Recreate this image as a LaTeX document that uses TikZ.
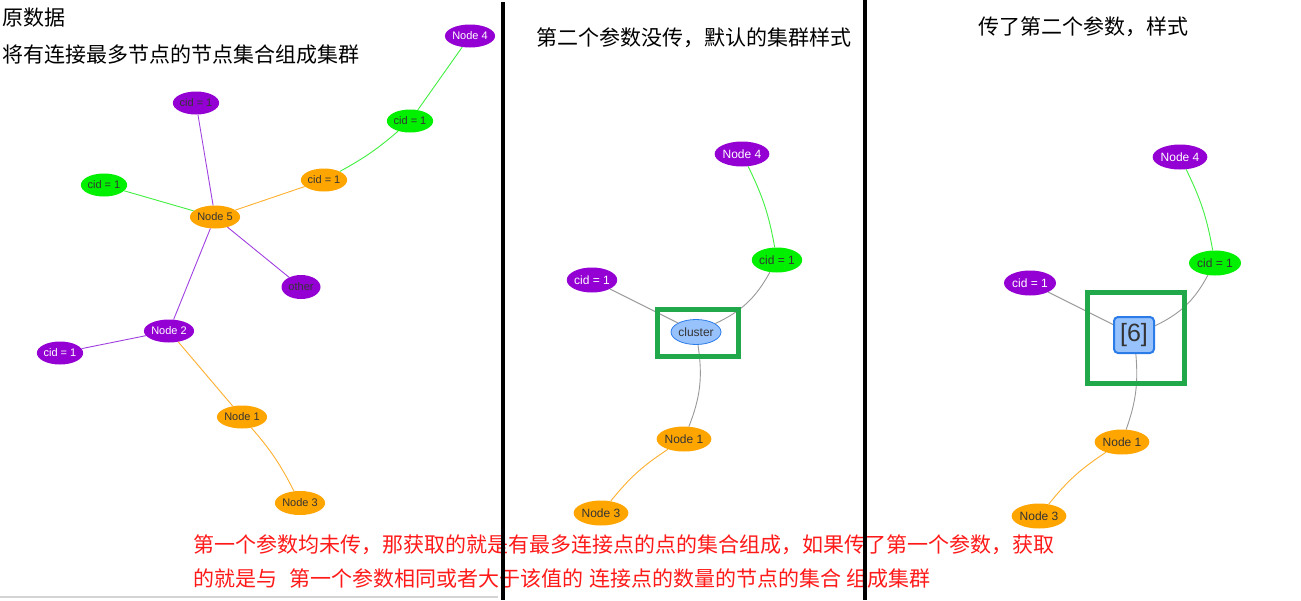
\documentclass[tikz,border=0pt]{standalone}
\usepackage{fontspec}
\setmainfont{Liberation Sans}
\newfontfamily\cjk{Noto Sans CJK SC}
\usetikzlibrary{shapes.geometric}

\definecolor{vpurple}{HTML}{9400D3}
\definecolor{vgreen}{HTML}{00F000}
\definecolor{vorange}{HTML}{FFA500}
\definecolor{vtext}{HTML}{343434}
\definecolor{epurple}{HTML}{A040E0}
\definecolor{egreen}{HTML}{40F040}
\definecolor{eorange}{HTML}{FFB030}
\definecolor{egray}{HTML}{999999}
\definecolor{clfill}{HTML}{97C2FC}
\definecolor{clborder}{HTML}{2B7CE9}
\definecolor{markbox}{HTML}{21A84A}
\definecolor{note}{HTML}{FF1A1A}

\tikzset{
  nd/.style={ellipse, inner sep=0pt, text=vtext},
  small/.style={nd, font=\fontsize{11}{13}\selectfont, minimum height=23pt},
  big/.style={nd, font=\fontsize{12}{14}\selectfont, minimum height=25pt, minimum width=50pt},
  pu/.style={fill=vpurple},
  gr/.style={fill=vgreen},
  orng/.style={fill=vorange},
  wt/.style={text=white},
  eg/.style={line width=0.9pt},
  headtext/.style={font=\cjk\fontsize{21}{24}\selectfont, inner sep=0pt},
  notetext/.style={font=\cjk\fontsize{21}{24}\selectfont, text=note, inner sep=0pt, anchor=west},
  markframe/.style={draw=markbox, line width=5pt},
  divider/.style={line width=4.5pt, black}
}

\begin{document}
\begin{tikzpicture}[x=1pt,y=-1pt]
\useasboundingbox (0,0) rectangle (1301,600);
\fill[white] (0,0) rectangle (1301,600);

% ---------- raw data graph ----------
\node[small,pu,wt,minimum width=50pt] (a4) at (470,36) {Node 4};
\node[small,gr,minimum width=46pt] (ag1) at (410,121) {cid = 1};
\node[small,orng,minimum width=46pt] (ao1) at (324,180) {cid = 1};
\node[small,pu,minimum width=46pt] (ap1) at (196,103) {cid = 1};
\node[small,gr,minimum width=46pt] (ag2) at (104,185) {cid = 1};
\node[small,orng,minimum width=50pt] (a5) at (215,217) {Node 5};
\node[small,pu,minimum width=39pt,minimum height=24pt] (aot) at (301,287) {other};
\node[small,pu,wt,minimum width=50pt] (a2) at (169,331) {Node 2};
\node[small,pu,wt,minimum width=46pt] (ap2) at (60,353) {cid = 1};
\node[small,orng,minimum width=50pt] (a1) at (242,417) {Node 1};
\node[small,orng,minimum width=50pt,minimum height=24pt] (a3) at (300,503) {Node 3};

\draw[eg,egreen] (a4) -- (ag1);
\draw[eg,egreen] (ag1) to[bend left=6] (ao1);
\draw[eg,eorange] (ao1) -- (a5);
\draw[eg,epurple] (ap1) -- (a5);
\draw[eg,egreen] (ag2) -- (a5);
\draw[eg,epurple] (a5) -- (aot);
\draw[eg,epurple] (a5) -- (a2);
\draw[eg,epurple] (a2) -- (ap2);
\draw[eg,eorange] (a2) -- (a1);
\draw[eg,eorange] (a1) to[bend left=7] (a3);

% ---------- default cluster style ----------
\node[big,pu,wt,minimum width=52pt] (b4) at (742,154) {Node 4};
\node[big,gr] (bg) at (777,260) {cid = 1};
\node[big,pu,wt] (bp) at (592,280) {cid = 1};
\node[big,fill=clfill,draw=clborder,line width=0.8pt] (bc) at (696,332) {cluster};
\node[big,orng,minimum width=54pt] (b1) at (684,439) {Node 1};
\node[big,orng,minimum width=54pt] (b3) at (601,513) {Node 3};

\draw[eg,egreen] (b4) to[bend left=8] (bg);
\draw[eg,egray] (bg) to[bend left=18] (bc);
\draw[eg,egray] (bp) -- (bc);
\draw[eg,egray] (bc) to[bend left=15] (b1);
\draw[eg,eorange] (b1) to[bend right=9] (b3);
\draw[markframe] (657.5,309.5) rectangle (738.5,356.5);

% ---------- custom cluster style ----------
\node[big,pu,wt,minimum width=52pt] (c4) at (1180,157) {Node 4};
\node[big,gr,minimum width=52pt] (cg) at (1215,263) {cid = 1};
\node[big,pu,wt,minimum width=52pt] (cp) at (1030,283) {cid = 1};
\node[rectangle, rounded corners=4pt, fill=clfill, draw=clborder, line width=2pt,
      minimum width=40pt, minimum height=36pt, inner sep=0pt, text=vtext,
      font=\fontsize{25}{28}\selectfont] (cc) at (1134,335) {[6]};
\node[big,orng,minimum width=54pt] (c1) at (1122,442) {Node 1};
\node[big,orng,minimum width=54pt] (c3) at (1039,516) {Node 3};

\draw[eg,egreen] (c4) to[bend left=8] (cg);
\draw[eg,egray] (cg) to[bend left=18] (cc);
\draw[eg,egray] (cp) -- (cc);
\draw[eg,egray] (cc) to[bend left=12] (c1);
\draw[eg,eorange] (c1) to[bend right=9] (c3);
\draw[markframe] (1087.5,292.5) rectangle (1184.5,383.5);

% ---------- captions ----------
\node[headtext,anchor=west] (h1) at (2,18) {原数据};
\node[headtext,anchor=west] (h2) at (2,55) {将有连接最多节点的节点集合组成集群};
\node[headtext] (h3) at (694,38) {第二个参数没传，默认的集群样式};
\node[headtext] (h4) at (1083,27) {传了第二个参数，样式};

\node[notetext] (n1) at (193,545) {第一个参数均未传，那获取的就是有最多连接点的点的集合组成，如果传了第一个参数，获取};
\node[notetext] (n2) at (193,579) {的就是与\hspace{12pt}第一个参数相同或者大于该值的\hspace{6pt}连接点的数量的节点的集合\hspace{5pt}组成集群};

% ---------- separators ----------
\draw[line width=1.5pt, black!17] (0,597) -- (498,597);
\draw[divider] (503,2) -- (503,600);
\draw[divider] (865,0) -- (865,600);
\end{tikzpicture}
\end{document}
